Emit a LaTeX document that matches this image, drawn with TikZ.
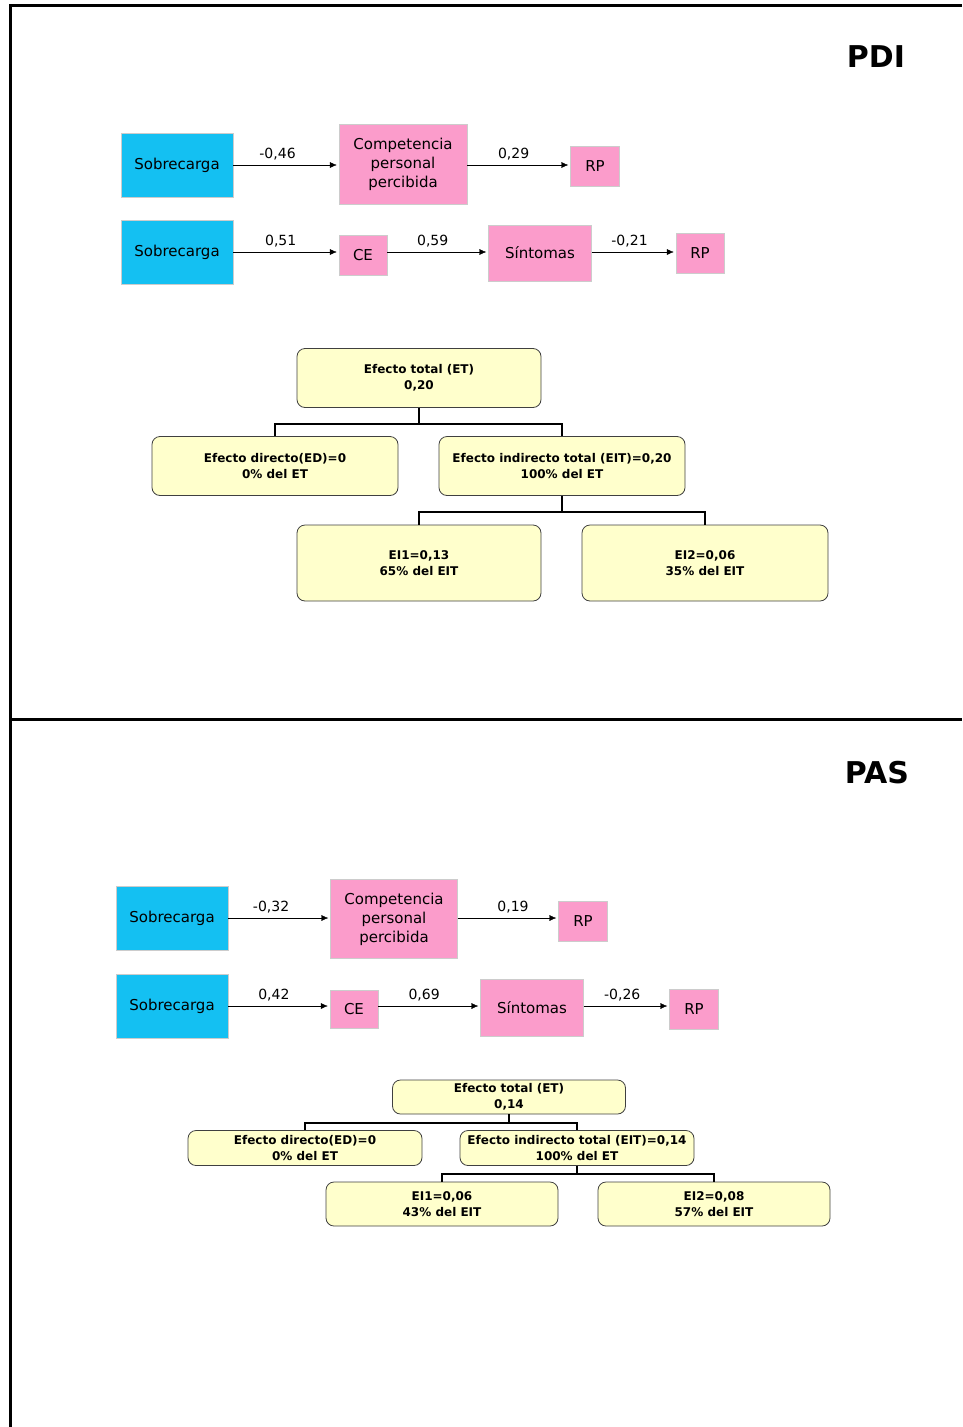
\documentclass[tikz,border=0pt]{standalone}
\usepackage{fontspec}
\setmainfont{DejaVu Sans}
\usetikzlibrary{positioning, arrows.meta}
\definecolor{azul}{HTML}{14C0F2}
\definecolor{rosa}{HTML}{FB9CCB}
\definecolor{crema}{HTML}{FFFFCC}

\begin{document}
\begin{tikzpicture}[
    x=1pt, y=-1pt,
    sobre/.style={draw=gray!40, fill=azul, rectangle, minimum width=112, minimum height=64, inner sep=0pt, font=\fontsize{15}{19}\selectfont},
    var/.style={draw=gray!40, fill=rosa, rectangle, inner sep=0pt, align=center, font=\fontsize{15}{19}\selectfont},
    efecto/.style={draw=black!75, line width=0.8pt, fill=crema, rectangle, rounded corners=8, inner sep=0pt, align=center, font=\bfseries\fontsize{12}{16}\selectfont},
    path/.style={thin, -{Latex[length=7pt, width=6pt]}, shorten >=2pt},
    coef/.style={above=1pt, font=\fontsize{14}{16}\selectfont},
    rama/.style={line width=2pt},
    titulo/.style={font=\bfseries\fontsize{30}{34}\selectfont}
]
\useasboundingbox (0,0) rectangle (962,1427);

% Marco
\draw[line width=3pt] (962,5) -- (10,5) -- (10,1427);
\draw[line width=3pt] (10,719) -- (962,719);

% ---------------- PDI ----------------
\node[titulo] (pdi) at (876,57) {PDI};

% Knoten
\node[sobre] (s1) at (177,165) {Sobrecarga};
\node[var, minimum width=128, minimum height=80] (cpp) at (403,164) {Competencia\\personal\\percibida};
\node[var, minimum width=49, minimum height=40] (rp1) at (595,166) {RP};
\node[sobre] (s2) at (177,252) {Sobrecarga};
\node[var, minimum width=48, minimum height=40] (ce) at (363,255) {CE};
\node[var, minimum width=103, minimum height=56] (sin) at (540,253) {Síntomas};
\node[var, minimum width=48, minimum height=40] (rp2) at (700,253) {RP};

\node[efecto, minimum width=244, minimum height=59] (et) at (419,378) {Efecto total (ET)\\0,20};
\node[efecto, minimum width=246, minimum height=59] (ed) at (275,466) {Efecto directo(ED)=0\\0\% del ET};
\node[efecto, minimum width=246, minimum height=59] (eit) at (562,466) {Efecto indirecto total (EIT)=0,20\\100\% del ET};
\node[efecto, minimum width=244, minimum height=76] (ei1) at (419,563) {EI1=0,13\\65\% del EIT};
\node[efecto, minimum width=246, minimum height=76] (ei2) at (705,563) {EI2=0,06\\35\% del EIT};

% Kanten
\draw[path] (s1.east) -- (cpp.west |- s1.east) node[pos=0.42, coef] {-0,46};
\draw[path] (cpp.east |- s1.east) -- (rp1.west |- s1.east) node[pos=0.45, coef] {0,29};
\draw[path] (s2.east) -- (ce.west |- s2.east) node[pos=0.45, coef] {0,51};
\draw[path] (ce.east |- s2.east) -- (sin.west |- s2.east) node[pos=0.45, coef] {0,59};
\draw[path] (sin.east |- s2.east) -- (rp2.west |- s2.east) node[pos=0.45, coef] {-0,21};

\draw[rama] (et.south) -- ++(0,16) -| (ed.north);
\draw[rama] (et.south) -- ++(0,16) -| (eit.north);
\draw[rama] (eit.south) -- ++(0,16) -| (ei1.north);
\draw[rama] (eit.south) -- ++(0,16) -| (ei2.north);

% ---------------- PAS ----------------
\node[titulo] (pas) at (877,773) {PAS};

% Knoten
\node[sobre] (s1b) at (172,918) {Sobrecarga};
\node[var, minimum width=127, minimum height=79] (cppb) at (394,919) {Competencia\\personal\\percibida};
\node[var, minimum width=49, minimum height=40] (rp1b) at (583,921) {RP};
\node[sobre] (s2b) at (172,1006) {Sobrecarga};
\node[var, minimum width=48, minimum height=38] (ceb) at (354,1009) {CE};
\node[var, minimum width=103, minimum height=57] (sinb) at (532,1008) {Síntomas};
\node[var, minimum width=49, minimum height=40] (rp2b) at (694,1009) {RP};

\node[efecto, minimum width=233, minimum height=34] (etb) at (509,1097) {Efecto total (ET)\\0,14};
\node[efecto, minimum width=234, minimum height=35] (edb) at (305,1148) {Efecto directo(ED)=0\\0\% del ET};
\node[efecto, minimum width=234, minimum height=35] (eitb) at (577,1148) {Efecto indirecto total (EIT)=0,14\\100\% del ET};
\node[efecto, minimum width=232, minimum height=44] (ei1b) at (442,1204) {EI1=0,06\\43\% del EIT};
\node[efecto, minimum width=232, minimum height=44] (ei2b) at (714,1204) {EI2=0,08\\57\% del EIT};

% Kanten
\draw[path] (s1b.east) -- (cppb.west |- s1b.east) node[pos=0.42, coef] {-0,32};
\draw[path] (cppb.east |- s1b.east) -- (rp1b.west |- s1b.east) node[pos=0.55, coef] {0,19};
\draw[path] (s2b.east) -- (ceb.west |- s2b.east) node[pos=0.45, coef] {0,42};
\draw[path] (ceb.east |- s2b.east) -- (sinb.west |- s2b.east) node[pos=0.45, coef] {0,69};
\draw[path] (sinb.east |- s2b.east) -- (rp2b.west |- s2b.east) node[pos=0.45, coef] {-0,26};

\draw[rama] (etb.south) -- ++(0,9) -| (edb.north);
\draw[rama] (etb.south) -- ++(0,9) -| (eitb.north);
\draw[rama] (eitb.south) -- ++(0,8) -| (ei1b.north);
\draw[rama] (eitb.south) -- ++(0,8) -| (ei2b.north);

\end{tikzpicture}
\end{document}
